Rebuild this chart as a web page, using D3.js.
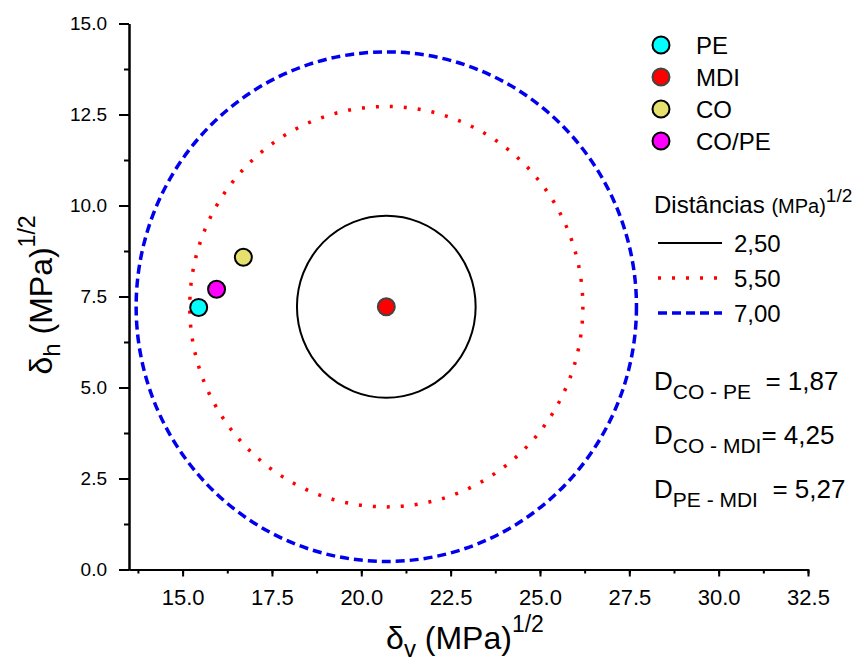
<!DOCTYPE html>
<meta charset="utf-8">
<style>
body { margin: 0; background: #fff; }
text { font-family: "Liberation Sans", Arial, sans-serif; fill: #000; }
</style>
<svg width="867" height="662"></svg>
<script src="https://d3js.org/d3.v7.min.js"></script>
<script>
var names = ["PE", "MDI", "CO", "CO/PE"];
var deltaV = [15.45, 20.7, 16.7, 15.95];
var deltaH = [7.2, 7.22, 8.58, 7.7];
var fills = ["#00ffff", "#ff0000", "#e6e06e", "#ff00ff"];
var strokes = ["#000", "#444", "#000", "#000"];

var radii = [2.5, 5.5, 7.0];
var radiusLabels = ["2,50", "5,50", "7,00"];
var pairs = ["CO - PE", "CO - MDI", "PE - MDI"];
var pairValues = ["  = 1,87", "= 4,25", "  = 5,27"];

var xTicks = [15.0, 17.5, 20.0, 22.5, 25.0, 27.5, 30.0, 32.5];
var yTicks = [0.0, 2.5, 5.0, 7.5, 10.0, 12.5, 15.0];

var svg = d3.select("svg");
var x = d3.scaleLinear().domain([13.5, 32.5]).range([129, 808]);
var y = d3.scaleLinear().domain([0, 15]).range([569.5, 23.5]);

// circles around MDI
var cx = deltaV[1], cy = deltaH[1];
var circleStyle = [
	{ color: "#000", width: 2, dash: null },
	{ color: "#ff0000", width: 3.5, dash: "3,11" },
	{ color: "#0000ee", width: 3.5, dash: "9,5" }
];
radii.forEach(function(r, i) {
	svg.append("ellipse")
		.attr("cx", x(cx))
		.attr("cy", y(cy))
		.attr("rx", x(cx + r) - x(cx))
		.attr("ry", y(cy) - y(cy + r))
		.style("fill", "none")
		.style("stroke", circleStyle[i].color)
		.style("stroke-width", circleStyle[i].width)
		.style("stroke-dasharray", circleStyle[i].dash);
});

// axes (minor ticks in their own groups)
var xMinor = svg.append("g").attr("transform", "translate(0," + y(0) + ")")
	.call(d3.axisBottom(x).tickValues(d3.range(13.75, 32.6, 1.25)).tickSize(4).tickSizeOuter(0).tickFormat(""));
var xAxis = svg.append("g").attr("transform", "translate(0," + y(0) + ")")
	.call(d3.axisBottom(x).tickValues(xTicks).tickSize(7).tickSizeOuter(0).tickFormat(d3.format(".1f")));
var yMinor = svg.append("g").attr("transform", "translate(" + x(13.5) + ",0)")
	.call(d3.axisLeft(y).tickValues(d3.range(0, 15.1, 1.25)).tickSize(5).tickSizeOuter(0).tickFormat(""));
var yAxis = svg.append("g").attr("transform", "translate(" + x(13.5) + ",0)")
	.call(d3.axisLeft(y).tickValues(yTicks).tickSize(10).tickSizeOuter(0).tickFormat(d3.format(".1f")));

[xMinor, xAxis, yMinor, yAxis].forEach(function(g) {
	g.selectAll("path, line").style("stroke-width", 2);
	g.attr("font-family", null);
});
xAxis.selectAll("text").style("font-size", "22px").attr("y", 20);
yAxis.selectAll("text").style("font-size", "19px").attr("x", -22);

// axis titles
var xt = svg.append("text").attr("x", 465).attr("y", 649).attr("text-anchor", "middle").style("font-size", "32px");
xt.append("tspan").text("δ");
xt.append("tspan").attr("dy", 8).style("font-size", "24px").text("v");
xt.append("tspan").attr("dy", -8).text(" (MPa)");
xt.append("tspan").attr("dy", -17).style("font-size", "23px").text("1/2");

var yt = svg.append("text").attr("transform", "translate(52,295) rotate(-90)").attr("text-anchor", "middle").style("font-size", "32px");
yt.append("tspan").text("δ");
yt.append("tspan").attr("dy", 8).style("font-size", "24px").text("h");
yt.append("tspan").attr("dy", -8).text(" (MPa)");
yt.append("tspan").attr("dy", -17).style("font-size", "23px").text("1/2");

// points
svg.selectAll(".pt").data(names).enter().append("circle")
	.attr("class", "pt")
	.attr("cx", function(d, i) { return x(deltaV[i]); })
	.attr("cy", function(d, i) { return y(deltaH[i]); })
	.attr("r", 8.5)
	.style("fill", function(d, i) { return fills[i]; })
	.style("stroke", function(d, i) { return strokes[i]; })
	.style("stroke-width", 2);

// legend symbols
names.forEach(function(n, i) {
	var ly = 45 + i * 32;
	svg.append("circle").attr("cx", 661).attr("cy", ly).attr("r", 8.5)
		.style("fill", fills[i]).style("stroke", strokes[i]).style("stroke-width", 2);
	svg.append("text").attr("x", 696).attr("y", ly + 9).style("font-size", "24px").text(n);
});

var dt = svg.append("text").attr("x", 654).attr("y", 213).style("font-size", "24px");
dt.append("tspan").text("Distâncias ");
dt.append("tspan").style("font-size", "20px").text("(MPa)");
dt.append("tspan").attr("dy", -11).style("font-size", "19px").text("1/2");

radii.forEach(function(r, i) {
	var ly = 243 + i * 35;
	svg.append("line").attr("x1", 658).attr("x2", 722).attr("y1", ly).attr("y2", ly)
		.style("stroke", circleStyle[i].color)
		.style("stroke-width", i === 0 ? 2 : 3.5)
		.style("stroke-dasharray", i === 1 ? "3,11" : (i === 2 ? "9,5" : null));
	svg.append("text").attr("x", 734).attr("y", ly + 9).style("font-size", "24px").text(radiusLabels[i]);
});

pairs.forEach(function(p, i) {
	var t = svg.append("text").attr("x", 654).attr("y", 390 + i * 54).style("font-size", "26px")
		.attr("xml:space", "preserve").style("white-space", "pre");
	t.append("tspan").text("D");
	t.append("tspan").attr("dy", 9).style("font-size", "21px").text(p);
	t.append("tspan").attr("dy", -9).text(pairValues[i]);
});
</script>
